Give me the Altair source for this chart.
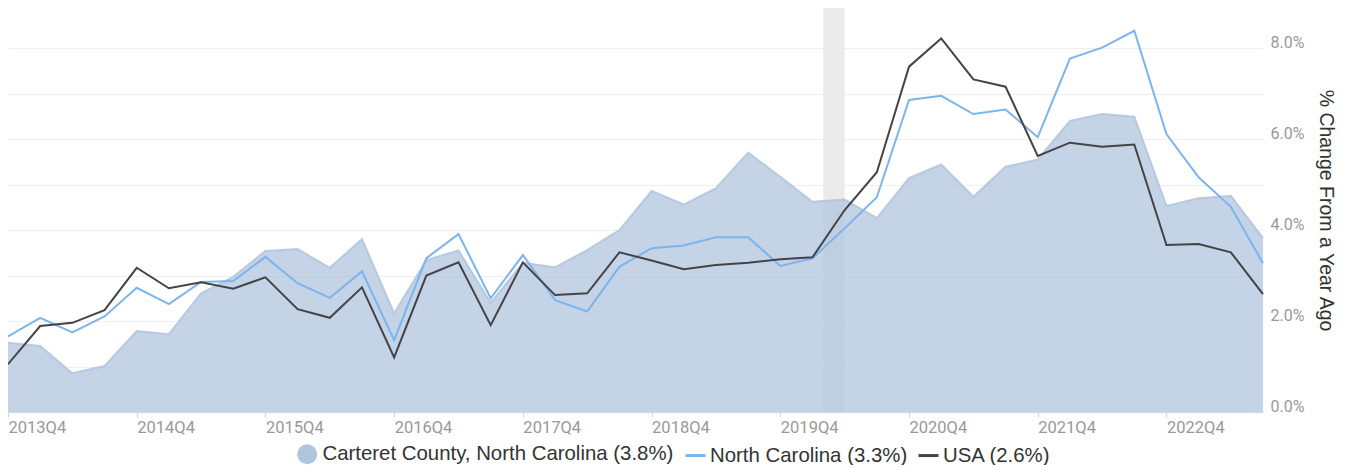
import altair as alt
import pandas as pd

quarters = ["2013Q4", "2014Q1", "2014Q2", "2014Q3", "2014Q4", "2015Q1", "2015Q2", "2015Q3",
            "2015Q4", "2016Q1", "2016Q2", "2016Q3", "2016Q4", "2017Q1", "2017Q2", "2017Q3",
            "2017Q4", "2018Q1", "2018Q2", "2018Q3", "2018Q4", "2019Q1", "2019Q2", "2019Q3",
            "2019Q4", "2020Q1", "2020Q2", "2020Q3", "2020Q4", "2021Q1", "2021Q2", "2021Q3",
            "2021Q4", "2022Q1", "2022Q2", "2022Q3", "2022Q4", "2023Q1", "2023Q2", "2023Q3"]

carteret = [1.52, 1.45, 0.85, 1.01, 1.78, 1.71, 2.61, 2.97, 3.54, 3.58, 3.17, 3.80, 2.17, 3.34,
            3.55, 2.40, 3.28, 3.18, 3.56, 4.00, 4.86, 4.56, 4.92, 5.70, 5.17, 4.62, 4.67, 4.26,
            5.14, 5.44, 4.73, 5.39, 5.55, 6.40, 6.55, 6.49, 4.53, 4.70, 4.75, 3.82]
north_carolina = [1.66, 2.07, 1.75, 2.10, 2.73, 2.37, 2.86, 2.88, 3.41, 2.83, 2.51, 3.09, 1.58,
                  3.38, 3.91, 2.50, 3.45, 2.46, 2.21, 3.19, 3.60, 3.66, 3.84, 3.84, 3.21, 3.38,
                  4.04, 4.72, 6.86, 6.95, 6.55, 6.65, 6.04, 7.77, 8.01, 8.38, 6.11, 5.16, 4.51, 3.27]
usa = [1.05, 1.89, 1.96, 2.24, 3.17, 2.72, 2.85, 2.71, 2.96, 2.26, 2.07, 2.74, 1.20, 3.00, 3.29,
       1.91, 3.29, 2.57, 2.61, 3.51, 3.33, 3.14, 3.23, 3.28, 3.36, 3.40, 4.44, 5.27, 7.59, 8.21,
       7.31, 7.15, 5.63, 5.92, 5.83, 5.88, 3.67, 3.69, 3.51, 2.59]

series_names = ["Carteret County, North Carolina (3.8%)", "North Carolina (3.3%)", "USA (2.6%)"]
series_colors = ["#b0c4de", "#7cb5ec", "#434348"]

recession = [("2020-02", "2020-04")]
axis_years = list(range(2013, 2023))
y_ticks = [0, 1, 2, 3, 4, 5, 6, 7, 8]


def qidx(label):
    y, q = label.split("Q")
    return (int(y) - 2013) * 4 + int(q) - 4


def midx(ym):
    y, m = ym.split("-")
    return (int(y) - 2013) * 4 + (int(m) - 10) / 3.0


qi = [qidx(q) for q in quarters]
area_df = pd.DataFrame({"qi": qi, "v": carteret, "series": series_names[0]})
lines_df = pd.concat([
    pd.DataFrame({"qi": qi, "v": north_carolina, "series": series_names[1]}),
    pd.DataFrame({"qi": qi, "v": usa, "series": series_names[2]}),
])
rec_df = pd.DataFrame({"s": [midx(a) for a, b in recession], "e": [midx(b) for a, b in recession]})

W, H = 1255, 404
LEGEND_FONT = 20.4

xscale = alt.Scale(domain=[0, len(quarters) - 1], nice=False, zero=False)
xaxis = alt.Axis(
    values=[(y - 2013) * 4 for y in axis_years],
    labelExpr="(2013 + floor(datum.value / 4)) + 'Q4'",
    labelAlign="left", labelFont="Roboto", labelFontSize=16.5, labelColor="#999999",
    tickColor="#ccd6eb", domainColor="#ccd6eb", tickSize=5, labelPadding=2,
    grid=False, title=None, labelOverlap=False,
)
yscale = alt.Scale(domain=[0, 8.88], nice=False, zero=True)
yaxis = alt.Axis(
    orient="right", values=y_ticks,
    labelExpr="datum.value % 2 == 0 ? format(datum.value, '.1f') + '%' : ''",
    grid=True, gridColor="#efefef", gridWidth=1, domain=False, ticks=False,
    labelPadding=7, labelBaseline="alphabetic", labelFont="Roboto", labelFontSize=16,
    labelColor="#999999", labelOffset=-1,
    title="% Change From a Year Ago", titleFont="Liberation Sans", titleFontSize=19.5,
    titleFontWeight="normal", titleColor="#333333", titlePadding=12,
)

X = alt.X("qi:Q", scale=xscale, axis=xaxis)
Y = alt.Y("v:Q", scale=yscale, axis=yaxis)

band = alt.Chart(rec_df).mark_rect(color="#ebebeb").encode(
    x=alt.X("s:Q", scale=xscale, axis=xaxis), x2="e:Q"
)

area = alt.Chart(area_df).mark_area(fillOpacity=0.75).encode(
    x=X, y=Y,
    color=alt.Color("series:N",
                    scale=alt.Scale(domain=[series_names[0]], range=[series_colors[0]]),
                    legend=alt.Legend(title=None, orient="none", legendX=289, legendY=436,
                                      symbolType="circle", symbolSize=400, symbolOpacity=1,
                                      symbolStrokeWidth=0, symbolFillColor=series_colors[0],
                                      labelFont="Liberation Sans", labelFontSize=LEGEND_FONT,
                                      labelColor="#333333", labelLimit=0, labelOffset=5,
                                      padding=0)),
)

edge = alt.Chart(area_df).mark_line(color=series_colors[0], strokeWidth=2, opacity=0.85).encode(
    x=X, y=Y
)

lines = alt.Chart(lines_df).mark_line(strokeWidth=2).encode(
    x=X, y=Y,
    stroke=alt.Stroke("series:N",
                      scale=alt.Scale(domain=series_names[1:], range=series_colors[1:]),
                      legend=alt.Legend(title=None, orient="none", direction="horizontal",
                                        legendX=676, legendY=436, symbolType="stroke",
                                        symbolSize=400, symbolStrokeWidth=3,
                                        labelFont="Liberation Sans", labelFontSize=LEGEND_FONT,
                                        labelColor="#333333", labelLimit=0, labelOffset=3,
                                        columnPadding=4, padding=0)),
)

chart = alt.layer(band, area, edge, lines).resolve_legend(
    color="independent", stroke="independent"
).properties(
    width=W, height=H,
    padding={"left": 0, "top": 0, "right": 84, "bottom": 53},
    autosize=alt.AutoSizeParams(type="none"),
).configure_view(stroke=None)

chart.save("out.html", embed_options={"renderer": "svg", "actions": False})
